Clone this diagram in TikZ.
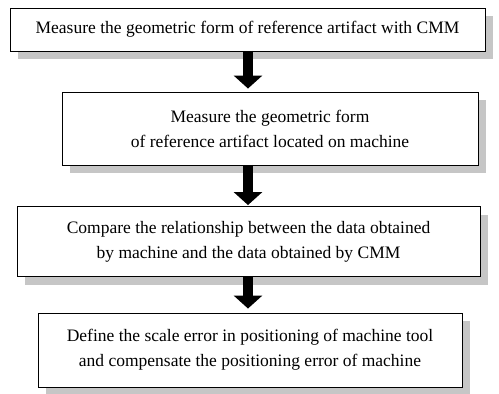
\documentclass[tikz,border=0pt]{standalone}
\usepackage{fontspec}
\setmainfont{Liberation Serif}
\usetikzlibrary{shadows,arrows.meta}
\begin{document}
\begin{tikzpicture}[x=1pt,y=-1pt,
  stepbox/.style={draw=black, line width=0.9pt, fill=white, inner sep=0pt, align=center,
    font=\fontsize{17.5}{25}\selectfont,
    drop shadow={shadow xshift=8pt, shadow yshift=-8pt, fill=gray!45, opacity=1}},
  flowarrow/.style={line width=10pt, -{Triangle[width=28pt,length=13pt]}, shorten <=-0.5pt}]
\useasboundingbox (0,0) rectangle (499,394);
\node[stepbox, minimum width=475pt, minimum height=43pt] (b1) at (247.5,29.5)
  {Measure the geometric form of reference artifact with CMM};
\node[stepbox, minimum width=416pt, minimum height=73pt] (b2) at (270,128.5)
  {Measure the geometric form\\of reference artifact located on machine};
\node[stepbox, minimum width=463pt, minimum height=70pt] (b3) at (248.5,241.5)
  {Compare the relationship between the data obtained\\by machine and the data obtained by CMM};
\node[stepbox, minimum width=424pt, minimum height=74pt] (b4) at (250,350)
  {Define the scale error in positioning of machine tool\\and compensate the positioning error of machine};
\draw[flowarrow, shorten >=3pt] (b1.south -| 248,0) -- (b2.north -| 248,0);
\draw[flowarrow, shorten >=1pt] (b2.south -| 248,0) -- (b3.north -| 248,0);
\draw[flowarrow, shorten >=4pt] (b3.south -| 248,0) -- (b4.north -| 248,0);
\end{tikzpicture}
\end{document}
